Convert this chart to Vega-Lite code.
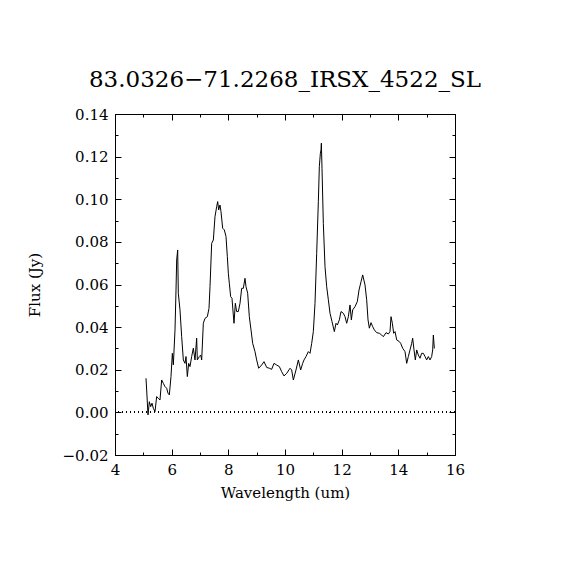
{
  "$schema": "https://vega.github.io/schema/vega-lite/v6.json",
  "width": 340,
  "height": 341,
  "autosize": "none",
  "padding": {"left": 115, "top": 114, "right": 115, "bottom": 115},
  "background": "white",
  "title": {
    "text": "83.0326−71.2268_IRSX_4522_SL",
    "font": "DejaVu Serif",
    "fontSize": 23,
    "fontWeight": "normal",
    "color": "black",
    "offset": 15,
    "anchor": "middle"
  },
  "config": {
    "view": {"stroke": "black", "strokeWidth": 1},
    "axis": {
      "labelFont": "DejaVu Serif",
      "labelFontSize": 15,
      "labelColor": "black",
      "titleFont": "DejaVu Serif",
      "titleFontSize": 15,
      "titleFontWeight": "normal",
      "titleColor": "black",
      "domainColor": "black",
      "tickColor": "black",
      "tickWidth": 1,
      "grid": false
    }
  },
  "data": {
    "values": [
      {"wl": 5.094, "flux": 0.0160}, {"wl": 5.118, "flux": 0.0105}, {"wl": 5.165, "flux": -0.0012},
      {"wl": 5.212, "flux": 0.0050}, {"wl": 5.259, "flux": 0.0027}, {"wl": 5.306, "flux": 0.0043},
      {"wl": 5.353, "flux": 0.0019}, {"wl": 5.412, "flux": 0.0004}, {"wl": 5.471, "flux": 0.0074},
      {"wl": 5.529, "flux": 0.0066}, {"wl": 5.588, "flux": 0.0058}, {"wl": 5.647, "flux": 0.0152},
      {"wl": 5.706, "flux": 0.0136}, {"wl": 5.765, "flux": 0.0121}, {"wl": 5.824, "flux": 0.0113},
      {"wl": 5.871, "flux": 0.0090}, {"wl": 5.918, "flux": 0.0082}, {"wl": 5.976, "flux": 0.0168},
      {"wl": 6.024, "flux": 0.0277}, {"wl": 6.059, "flux": 0.0223}, {"wl": 6.118, "flux": 0.0387},
      {"wl": 6.153, "flux": 0.0574}, {"wl": 6.177, "flux": 0.0715}, {"wl": 6.212, "flux": 0.0762},
      {"wl": 6.235, "flux": 0.0559}, {"wl": 6.294, "flux": 0.0481}, {"wl": 6.353, "flux": 0.0355},
      {"wl": 6.412, "flux": 0.0246}, {"wl": 6.471, "flux": 0.0230}, {"wl": 6.506, "flux": 0.0262},
      {"wl": 6.553, "flux": 0.0168}, {"wl": 6.600, "flux": 0.0230}, {"wl": 6.647, "flux": 0.0215},
      {"wl": 6.706, "flux": 0.0262}, {"wl": 6.765, "flux": 0.0301}, {"wl": 6.823, "flux": 0.0246},
      {"wl": 6.882, "flux": 0.0348}, {"wl": 6.906, "flux": 0.0246}, {"wl": 6.976, "flux": 0.0262},
      {"wl": 7.024, "flux": 0.0269}, {"wl": 7.059, "flux": 0.0246}, {"wl": 7.118, "flux": 0.0418},
      {"wl": 7.176, "flux": 0.0441}, {"wl": 7.259, "flux": 0.0449}, {"wl": 7.318, "flux": 0.0488},
      {"wl": 7.353, "flux": 0.0590}, {"wl": 7.412, "flux": 0.0793}, {"wl": 7.471, "flux": 0.0809},
      {"wl": 7.529, "flux": 0.0918}, {"wl": 7.588, "flux": 0.0965}, {"wl": 7.624, "flux": 0.0989},
      {"wl": 7.659, "flux": 0.0950}, {"wl": 7.706, "flux": 0.0973}, {"wl": 7.741, "flux": 0.0942},
      {"wl": 7.800, "flux": 0.0864}, {"wl": 7.859, "flux": 0.0856}, {"wl": 7.918, "flux": 0.0825},
      {"wl": 7.965, "flux": 0.0731}, {"wl": 8.000, "flux": 0.0653}, {"wl": 8.035, "flux": 0.0606},
      {"wl": 8.082, "flux": 0.0543}, {"wl": 8.129, "flux": 0.0535}, {"wl": 8.176, "flux": 0.0457},
      {"wl": 8.200, "flux": 0.0418}, {"wl": 8.247, "flux": 0.0512}, {"wl": 8.294, "flux": 0.0473},
      {"wl": 8.353, "flux": 0.0473}, {"wl": 8.412, "flux": 0.0512}, {"wl": 8.471, "flux": 0.0582},
      {"wl": 8.529, "flux": 0.0582}, {"wl": 8.588, "flux": 0.0629}, {"wl": 8.624, "flux": 0.0590},
      {"wl": 8.682, "flux": 0.0559}, {"wl": 8.741, "flux": 0.0449}, {"wl": 8.800, "flux": 0.0387},
      {"wl": 8.859, "flux": 0.0324}, {"wl": 8.941, "flux": 0.0285}, {"wl": 9.000, "flux": 0.0246},
      {"wl": 9.071, "flux": 0.0207}, {"wl": 9.176, "flux": 0.0222}, {"wl": 9.259, "flux": 0.0238},
      {"wl": 9.353, "flux": 0.0211}, {"wl": 9.447, "flux": 0.0207}, {"wl": 9.529, "flux": 0.0202},
      {"wl": 9.612, "flux": 0.0230}, {"wl": 9.706, "flux": 0.0222}, {"wl": 9.800, "flux": 0.0215},
      {"wl": 9.882, "flux": 0.0191}, {"wl": 9.965, "flux": 0.0171}, {"wl": 10.059, "flux": 0.0183},
      {"wl": 10.153, "flux": 0.0202}, {"wl": 10.177, "flux": 0.0207}, {"wl": 10.235, "flux": 0.0199},
      {"wl": 10.294, "flux": 0.0152}, {"wl": 10.388, "flux": 0.0199}, {"wl": 10.471, "flux": 0.0246},
      {"wl": 10.553, "flux": 0.0199}, {"wl": 10.624, "flux": 0.0230}, {"wl": 10.671, "flux": 0.0246},
      {"wl": 10.741, "flux": 0.0262}, {"wl": 10.824, "flux": 0.0285}, {"wl": 10.883, "flux": 0.0277},
      {"wl": 10.942, "flux": 0.0324}, {"wl": 11.000, "flux": 0.0379}, {"wl": 11.059, "flux": 0.0512},
      {"wl": 11.118, "flux": 0.0746}, {"wl": 11.177, "flux": 0.0989}, {"wl": 11.212, "flux": 0.1153},
      {"wl": 11.248, "flux": 0.1216}, {"wl": 11.271, "flux": 0.1231}, {"wl": 11.283, "flux": 0.1263},
      {"wl": 11.306, "flux": 0.1145}, {"wl": 11.353, "flux": 0.0887}, {"wl": 11.412, "flux": 0.0684},
      {"wl": 11.471, "flux": 0.0590}, {"wl": 11.530, "flux": 0.0528}, {"wl": 11.589, "flux": 0.0465},
      {"wl": 11.659, "flux": 0.0426}, {"wl": 11.742, "flux": 0.0379}, {"wl": 11.800, "flux": 0.0418},
      {"wl": 11.848, "flux": 0.0410}, {"wl": 11.918, "flux": 0.0434}, {"wl": 11.977, "flux": 0.0473},
      {"wl": 12.059, "flux": 0.0465}, {"wl": 12.118, "flux": 0.0449}, {"wl": 12.177, "flux": 0.0418},
      {"wl": 12.236, "flux": 0.0449}, {"wl": 12.295, "flux": 0.0504}, {"wl": 12.342, "flux": 0.0434},
      {"wl": 12.389, "flux": 0.0481}, {"wl": 12.471, "flux": 0.0496}, {"wl": 12.553, "flux": 0.0520},
      {"wl": 12.612, "flux": 0.0574}, {"wl": 12.683, "flux": 0.0613}, {"wl": 12.742, "flux": 0.0645},
      {"wl": 12.824, "flux": 0.0598}, {"wl": 12.883, "flux": 0.0528}, {"wl": 12.930, "flux": 0.0434},
      {"wl": 12.977, "flux": 0.0395}, {"wl": 13.036, "flux": 0.0421}, {"wl": 13.095, "flux": 0.0402},
      {"wl": 13.153, "flux": 0.0387}, {"wl": 13.236, "flux": 0.0374}, {"wl": 13.330, "flux": 0.0371},
      {"wl": 13.412, "flux": 0.0363}, {"wl": 13.471, "flux": 0.0355}, {"wl": 13.565, "flux": 0.0374},
      {"wl": 13.648, "flux": 0.0368}, {"wl": 13.706, "flux": 0.0379}, {"wl": 13.742, "flux": 0.0449},
      {"wl": 13.789, "flux": 0.0418}, {"wl": 13.836, "flux": 0.0371}, {"wl": 13.883, "flux": 0.0379},
      {"wl": 13.942, "flux": 0.0340}, {"wl": 14.036, "flux": 0.0332}, {"wl": 14.083, "flux": 0.0324},
      {"wl": 14.153, "flux": 0.0301}, {"wl": 14.236, "flux": 0.0285}, {"wl": 14.295, "flux": 0.0230},
      {"wl": 14.353, "flux": 0.0262}, {"wl": 14.412, "flux": 0.0293}, {"wl": 14.471, "flux": 0.0324},
      {"wl": 14.506, "flux": 0.0348}, {"wl": 14.553, "flux": 0.0293}, {"wl": 14.600, "flux": 0.0246},
      {"wl": 14.648, "flux": 0.0293}, {"wl": 14.706, "flux": 0.0269}, {"wl": 14.765, "flux": 0.0254},
      {"wl": 14.824, "flux": 0.0277}, {"wl": 14.883, "flux": 0.0277}, {"wl": 14.942, "flux": 0.0262},
      {"wl": 15.000, "flux": 0.0246}, {"wl": 15.059, "flux": 0.0262}, {"wl": 15.118, "flux": 0.0246},
      {"wl": 15.177, "flux": 0.0262}, {"wl": 15.212, "flux": 0.0293}, {"wl": 15.236, "flux": 0.0363},
      {"wl": 15.271, "flux": 0.0300}
    ]
  },
  "layer": [
    {
      "mark": {"type": "line", "color": "black", "strokeWidth": 1, "interpolate": "linear"},
      "encoding": {
        "x": {
          "field": "wl",
          "type": "quantitative",
          "scale": {"domain": [4, 16], "nice": false, "zero": false},
          "axis": {
            "orient": "bottom",
            "title": "Wavelength (um)",
            "titlePadding": 8,
            "values": [4, 5, 6, 7, 8, 9, 10, 11, 12, 13, 14, 15, 16],
            "labelExpr": "datum.value % 2 == 0 ? datum.label : ''",
            "tickSize": {"condition": {"test": "datum.value % 2 == 0", "value": -6}, "value": -3},
            "labelPadding": 13,
            "labelFlush": false
          }
        },
        "y": {
          "field": "flux",
          "type": "quantitative",
          "scale": {"domain": [-0.02, 0.14], "nice": false, "zero": false},
          "axis": {
            "orient": "left",
            "title": "Flux (Jy)",
            "titlePadding": 20,
            "values": [-0.02, -0.01, 0, 0.01, 0.02, 0.03, 0.04, 0.05, 0.06, 0.07, 0.08, 0.09, 0.1, 0.11, 0.12, 0.13, 0.14],
            "format": ".2f",
            "labelExpr": "round(datum.value * 100) % 2 == 0 ? datum.label : ''",
            "tickSize": {"condition": {"test": "round(datum.value * 100) % 2 == 0", "value": -6}, "value": -3},
            "labelPadding": 13,
            "labelFlush": false
          }
        }
      }
    },
    {
      "mark": {"type": "rule", "color": "black", "strokeWidth": 1, "strokeDash": [1, 3]},
      "encoding": {"y": {"datum": 0, "type": "quantitative", "axis": null}}
    },
    {
      "mark": {"type": "point", "opacity": 0},
      "encoding": {
        "x": {
          "field": "wl",
          "type": "quantitative",
          "axis": {
            "orient": "top",
            "title": null,
            "labels": false,
            "values": [4, 5, 6, 7, 8, 9, 10, 11, 12, 13, 14, 15, 16],
            "tickSize": {"condition": {"test": "datum.value % 2 == 0", "value": -6}, "value": -3}
          }
        },
        "y": {
          "field": "flux",
          "type": "quantitative",
          "axis": {
            "orient": "right",
            "title": null,
            "labels": false,
            "values": [-0.02, -0.01, 0, 0.01, 0.02, 0.03, 0.04, 0.05, 0.06, 0.07, 0.08, 0.09, 0.1, 0.11, 0.12, 0.13, 0.14],
            "tickSize": {"condition": {"test": "round(datum.value * 100) % 2 == 0", "value": -6}, "value": -3}
          }
        }
      }
    }
  ],
  "resolve": {"axis": {"x": "independent", "y": "independent"}}
}
